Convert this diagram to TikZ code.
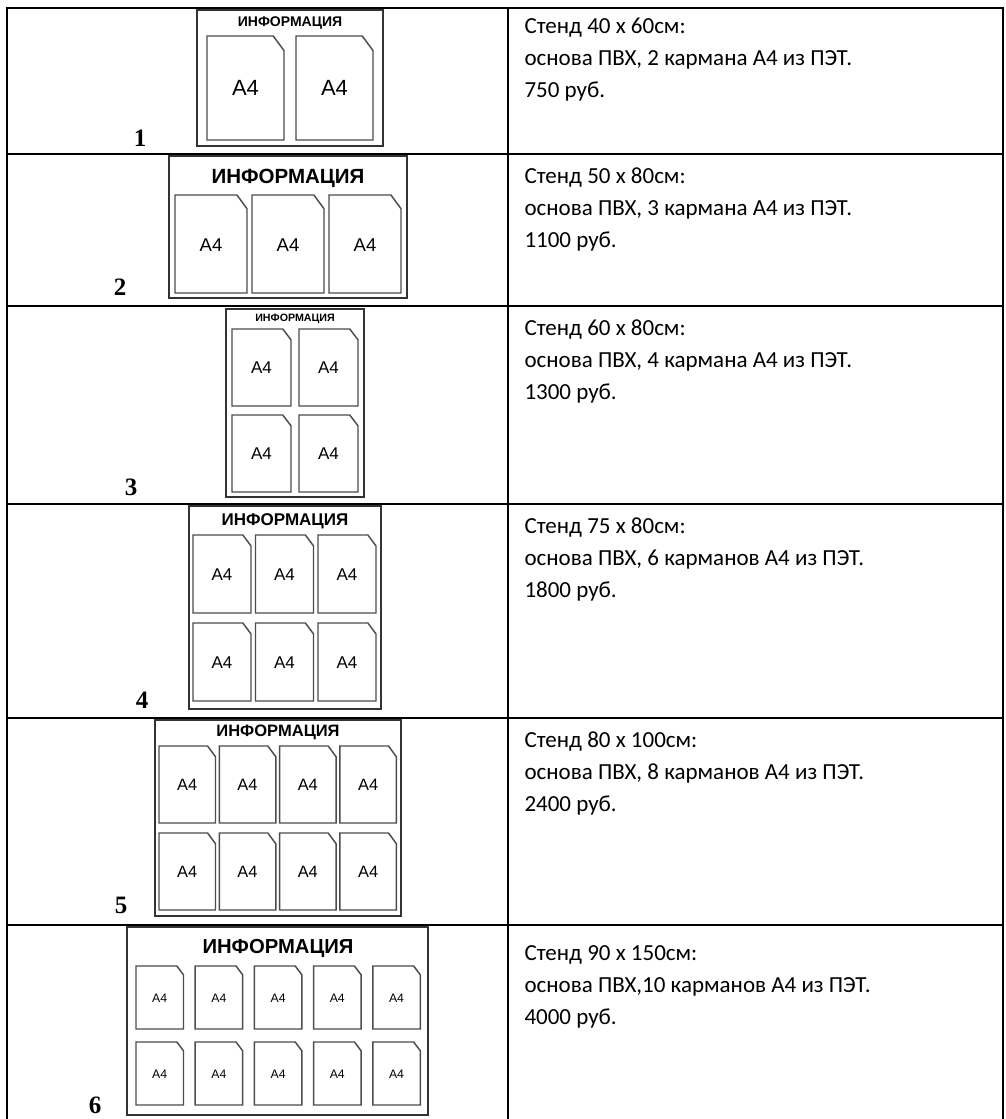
\documentclass[tikz,border=0pt]{standalone}
\usepackage{fontspec}
\newfontfamily\calibrifont{Carlito}
\newfontfamily\arialfont{Liberation Sans}
\newfontfamily\timesfont{Liberation Serif}

\tikzset{every picture/.style={line width=0.75pt}}
\tikzset{
    tableline/.style={line width=1.5pt, line cap=rect},
    standline/.style={draw=black!80, line width=1.2pt},
    pocketline/.style={draw=black!70, line width=1.1pt, fill=white},
    title/.style={inner sep=0pt, font=\arialfont\bfseries\fontsize{#1}{#1}\selectfont},
    afour/.style={inner sep=0pt, font=\arialfont\fontsize{#1}{#1}\selectfont},
    desc/.style={anchor=north west, inner sep=0pt, align=left, font=\calibrifont\fontsize{17.25}{24}\selectfont},
    num/.style={anchor=base, inner sep=0pt, font=\timesfont\bfseries\fontsize{18.75}{20}\selectfont},
}
% pocket with cut corner: left, top, width, height
\newcommand{\pocket}[4]{%
    \draw[pocketline] (#1,#2) -- ({#1+0.86*#3},#2) -- ({#1+#3},{#2+0.14*#4}) -- ({#1+#3},{#2+#4}) -- (#1,{#2+#4}) -- cycle;}

\begin{document}
\begin{tikzpicture}[x=0.75pt,y=0.75pt,yscale=-1,xscale=1]
        \useasboundingbox (0,0) rectangle (1005,1119);
        %Table lines
        \foreach \y in {8,154,306,504,718,925} {
            \draw[tableline] (7,\y) -- (1003,\y);
        }
        \draw[tableline] (7,8) -- (7,1125);
        \draw[tableline] (508,8) -- (508,1125);
        \draw[tableline] (1003,8) -- (1003,1125);

        %Stand 1
        \draw[standline] (197,10) rectangle (383,146);
        \node[title=10.5] (ttl1) at (290,23) {ИНФОРМАЦИЯ};
        \foreach \c in {0,1} {
            \pocket{207+89*\c}{36}{77}{104}
            \node[afour=16.5] (a4-1-\c) at ({207+89*\c+38.5},88) {A4};
        }
        %Stand 2
        \draw[standline] (169,156) rectangle (407,298);
        \node[title=15.4] (ttl2) at (288,178) {ИНФОРМАЦИЯ};
        \foreach \c in {0,1,2} {
            \pocket{175+77*\c}{195}{72}{98}
            \node[afour=13.9] (a4-2-\c) at ({175+77*\c+36},245) {A4};
        }
        %Stand 3
        \draw[standline] (226,309) rectangle (364,497);
        \node[title=8] (ttl3) at (295,319) {ИНФОРМАЦИЯ};
        \foreach \c in {0,1} {
            \foreach \r in {0,1} {
                \pocket{232+67*\c}{329+86*\r}{59}{77}
                \node[afour=12.75] (a4-3-\c-\r) at ({232+67*\c+29.5},{329+86*\r+39}) {A4};
            }
        }
        %Stand 4
        \draw[standline] (189,506) rectangle (381,709);
        \node[title=12.75] (ttl4) at (285,521) {ИНФОРМАЦИЯ};
        \foreach \c in {0,1,2} {
            \foreach \r in {0,1} {
                \pocket{193+62.5*\c}{535+88*\r}{58}{78}
                \node[afour=12.75] (a4-4-\c-\r) at ({193+62.5*\c+29},{535+88*\r+40}) {A4};
            }
        }
        %Stand 5
        \draw[standline] (155,720) rectangle (401,916);
        \node[title=12.4] (ttl5) at (278,732) {ИНФОРМАЦИЯ};
        \foreach \c in {0,1,2,3} {
            \foreach \r in {0,1} {
                \pocket{159+60.3*\c}{746+87*\r}{56.5}{77}
                \node[afour=12.3] (a4-5-\c-\r) at ({159+60.3*\c+28.2},{746+87*\r+39}) {A4};
            }
        }
        %Stand 6
        \draw[standline] (127,927) rectangle (428,1115);
        \node[title=15.2] (ttl6) at (278,948) {ИНФОРМАЦИЯ};
        \foreach \c in {0,1,2,3,4} {
            \foreach \r in {0,1} {
                \pocket{136+59.2*\c}{966+76*\r}{47.5}{63}
                \node[afour=9.2] (a4-6-\c-\r) at ({136+59.2*\c+23.7},{966+76*\r+32}) {A4};
            }
        }

        % Numbers
        \node[num] (num1) at (140,147) {1};
        \node[num] (num2) at (120,296) {2};
        \node[num] (num3) at (131,495) {3};
        \node[num] (num4) at (142,708) {4};
        \node[num] (num5) at (121,913) {5};
        \node[num] (num6) at (95,1113) {6};

        % Text Node
        \node[desc] (txt1) at (524,17) {Стенд 40 х 60см:\\основа ПВХ, 2 кармана А4 из ПЭТ.\\750 руб.};
        % Text Node
        \node[desc] (txt2) at (524,167) {Стенд 50 х 80см:\\основа ПВХ, 3 кармана А4 из ПЭТ.\\1100 руб.};
        % Text Node
        \node[desc] (txt3) at (524,319) {Стенд 60 х 80см:\\основа ПВХ, 4 кармана А4 из ПЭТ.\\1300 руб.};
        % Text Node
        \node[desc] (txt4) at (524,517) {Стенд 75 х 80см:\\основа ПВХ, 6 карманов А4 из ПЭТ.\\1800 руб.};
        % Text Node
        \node[desc] (txt5) at (524,731) {Стенд 80 х 100см:\\основа ПВХ, 8 карманов А4 из ПЭТ.\\2400 руб.};
        % Text Node
        \node[desc] (txt6) at (524,945) {Стенд 90 х 150см:\\основа ПВХ,10 карманов А4 из ПЭТ.\\4000 руб.};
    \end{tikzpicture}
\end{document}
